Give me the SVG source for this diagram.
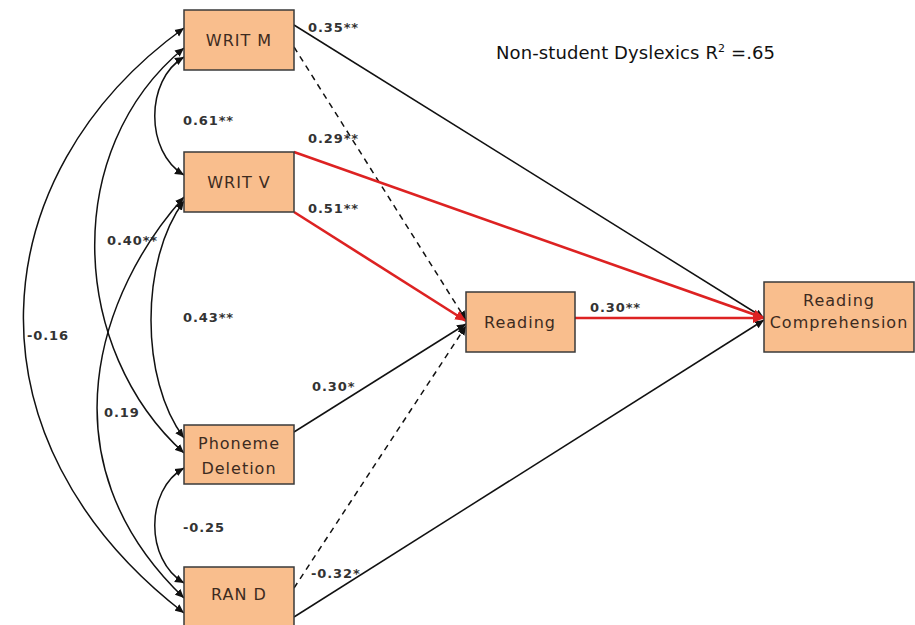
<svg xmlns="http://www.w3.org/2000/svg" width="915" height="625" viewBox="0 0 915 625">
<defs>
<style>
.node rect{fill:#F9BE8D;stroke:#3a3a3a;stroke-width:1.5}
.node text{font-family:"DejaVu Sans",Verdana,sans-serif;font-size:16px;fill:#3d2b1f;text-anchor:middle;letter-spacing:1px}
.lbl{font-family:"DejaVu Sans",Verdana,sans-serif;font-size:13px;font-weight:bold;fill:#333;letter-spacing:0.9px}
.blk{stroke:#111;stroke-width:1.5;fill:none}
.red{stroke:#dd2222;stroke-width:2.6;fill:none}
.dash{stroke:#111;stroke-width:1.5;fill:none;stroke-dasharray:6,5}
.cov{stroke:#111;stroke-width:1.5;fill:none;marker-start:url(#ah);marker-end:url(#ah)}
.title{font-family:"DejaVu Sans",Verdana,sans-serif;font-size:18px;fill:#111;letter-spacing:0.1px}
</style>
<marker id="ah" viewBox="0 0 10 10" refX="10" refY="5" markerWidth="9" markerHeight="9" markerUnits="userSpaceOnUse" orient="auto-start-reverse"><path d="M0,0.5 L10,5 L0,9.5 z" fill="#111"/></marker>
<marker id="ahr" viewBox="0 0 10 10" refX="10" refY="5" markerWidth="11" markerHeight="11" markerUnits="userSpaceOnUse" orient="auto"><path d="M0,0.5 L10,5 L0,9.5 z" fill="#dd2222"/></marker>
</defs>
<rect width="915" height="625" fill="#fff"/>
<g id="connectors">
<path class="blk" d="M294,25 L764,318" marker-end="url(#ah)"/>
<path class="dash" d="M294,47 L466,320" marker-end="url(#ah)"/>
<path class="red" d="M294,152 L764,318" marker-end="url(#ahr)"/>
<path class="red" d="M294,212 L466,321" marker-end="url(#ahr)"/>
<path class="blk" d="M294,432 L466,324" marker-end="url(#ah)"/>
<path class="dash" d="M294,588 L466,326" marker-end="url(#ah)"/>
<path class="blk" d="M294,617 L764,320" marker-end="url(#ah)"/>
<path class="red" d="M575,318 L764,318" marker-end="url(#ahr)"/>
<path class="cov" d="M184,57 C145,80 145,152 184,175"/>
<path class="cov" d="M184,28 C-20,175 -40,440 184,613"/>
<path class="cov" d="M184,48 C60,150 70,350 184,453"/>
<path class="cov" d="M184,197 C100,290 40,460 184,598"/>
<path class="cov" d="M184,201 C140,260 140,380 184,438"/>
<path class="cov" d="M184,468 C145,490 145,560 184,583"/>
</g>
<g id="labels">
<text class="lbl" x="308" y="32">0.35**</text>
<text class="lbl" x="308" y="143">0.29**</text>
<text class="lbl" x="308" y="213">0.51**</text>
<text class="lbl" x="590" y="312">0.30**</text>
<text class="lbl" x="312" y="391">0.30*</text>
<text class="lbl" x="311" y="578">-0.32*</text>
<text class="lbl" x="183" y="125">0.61**</text>
<text class="lbl" x="107" y="245">0.40**</text>
<text class="lbl" x="183" y="322">0.43**</text>
<text class="lbl" x="27" y="340">-0.16</text>
<text class="lbl" x="104" y="417">0.19</text>
<text class="lbl" x="183" y="532">-0.25</text>
<text class="title" x="496" y="59">Non-student Dyslexics R<tspan dy="-7" font-size="11">2</tspan><tspan dy="7"> =.65</tspan></text>
</g>
<g id="writm" class="node"><rect x="184" y="10" width="110" height="60"/><text x="239" y="46">WRIT M</text></g>
<g id="writv" class="node"><rect x="184" y="152" width="110" height="60"/><text x="239" y="188">WRIT V</text></g>
<g id="phoneme" class="node"><rect x="184" y="425" width="110" height="59"/><text x="239" y="449">Phoneme</text><text x="239" y="474">Deletion</text></g>
<g id="rand" class="node"><rect x="184" y="567" width="110" height="62"/><text x="239" y="600">RAN D</text></g>
<g id="reading" class="node"><rect x="466" y="292" width="109" height="60"/><text x="520" y="328">Reading</text></g>
<g id="readcomp" class="node"><rect x="764" y="282" width="150" height="70"/><text x="839" y="306">Reading</text><text x="839" y="328">Comprehension</text></g>
</svg>
